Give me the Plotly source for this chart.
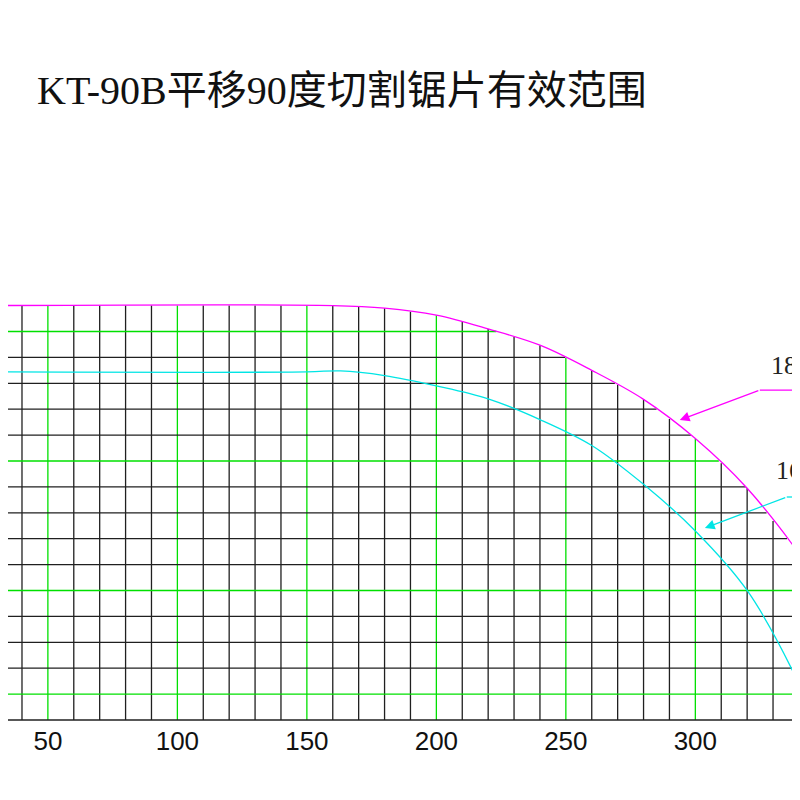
import numpy as np
import plotly.graph_objects as go

# outer (magenta) and inner (cyan) cutting limits
outer_x = [30, 160, 180, 200, 220, 240, 260, 280, 300, 320, 340.5, 345]
outer_y = [160, 160, 159, 156.3, 151, 144.7, 135, 123.8, 108.7, 89.5, 63.5, 56]
inner_x = [30, 150, 163, 180, 200, 220, 240, 260, 280, 300, 320, 340.5, 345]
inner_y = [134.4, 134.4, 134.8, 133, 129, 124, 116, 106, 91, 73, 50, 13, 2]

grid_x = list(range(40, 350, 10))
grid_y = list(range(0, 160, 10))
green_x = [50, 100, 150, 200, 250, 300]
green_y = [10, 50, 100, 150]
tick_vals = [50, 100, 150, 200, 250, 300]

fig = go.Figure()

# vertical grid lines, cut at the outer limit
for gx in grid_x:
    top = float(np.interp(gx, outer_x, outer_y))
    fig.add_trace(go.Scatter(x=[gx, gx], y=[0, top], mode="lines",
                             line=dict(color="#00e000" if gx in green_x else "#202020", width=1.3),
                             hoverinfo="skip", showlegend=False))

# horizontal grid lines, cut at the outer limit
ox_rev, oy_rev = outer_x[::-1], outer_y[::-1]
for gy in grid_y:
    right = float(np.interp(gy, oy_rev, ox_rev)) if gy > min(outer_y) else 345
    fig.add_trace(go.Scatter(x=[30, right], y=[gy, gy], mode="lines",
                             line=dict(color="#00e000" if gy in green_y else "#202020", width=1.3),
                             hoverinfo="skip", showlegend=False))

fig.add_trace(go.Scatter(x=outer_x, y=outer_y, mode="lines", line_shape="spline",
                         line=dict(color="#ff00ff", width=1.3), showlegend=False))
fig.add_trace(go.Scatter(x=inner_x, y=inner_y, mode="lines", line_shape="spline",
                         line=dict(color="#00e5e5", width=1.3), showlegend=False))

# leader lines
fig.add_trace(go.Scatter(x=[345, 324.9], y=[127.4, 127.4], mode="lines",
                         line=dict(color="#ff00ff", width=1.3), showlegend=False))
fig.add_trace(go.Scatter(x=[345, 335.3], y=[86.1, 86.1], mode="lines",
                         line=dict(color="#00e5e5", width=1.3), showlegend=False))
fig.add_annotation(x=294, y=115.8, ax=324.9, ay=127.4, xref="x", yref="y", axref="x", ayref="y",
                   text="", showarrow=True, arrowhead=2, arrowsize=1.5, arrowwidth=1.3, arrowcolor="#ff00ff")
fig.add_annotation(x=303.7, y=74.1, ax=335.3, ay=86.1, xref="x", yref="y", axref="x", ayref="y",
                   text="", showarrow=True, arrowhead=2, arrowsize=1.5, arrowwidth=1.3, arrowcolor="#00e5e5")

fig.add_annotation(x=328.5, y=137, xref="x", yref="y", text="1800", showarrow=False, xanchor="left",
                   font=dict(family="Liberation Serif", size=26, color="#222"))
fig.add_annotation(x=330.5, y=96.5, xref="x", yref="y", text="1600", showarrow=False, xanchor="left",
                   font=dict(family="Liberation Serif", size=26, color="#222"))

fig.add_annotation(x=0.034, y=0.885, xref="paper", yref="paper", xanchor="left", yanchor="middle",
                   text="KT-90B平移90度切割锯片有效范围", showarrow=False,
                   font=dict(family="Liberation Serif, Noto Sans CJK SC", size=40, color="#111"))

fig.update_layout(
    width=800, height=800,
    margin=dict(l=0, r=0, t=0, b=85, autoexpand=False),
    plot_bgcolor="white", paper_bgcolor="white",
    xaxis=dict(range=[34.6, 343.5], showgrid=False, zeroline=False, tickvals=tick_vals,
               ticks="", showline=False, automargin=False,
               tickfont=dict(family="Liberation Sans Narrow, Liberation Sans", size=26, color="#111")),
    yaxis=dict(range=[-1.16, 274.9], showgrid=False, zeroline=False, showticklabels=False,
               automargin=False),
)

fig.write_html("out.html")
